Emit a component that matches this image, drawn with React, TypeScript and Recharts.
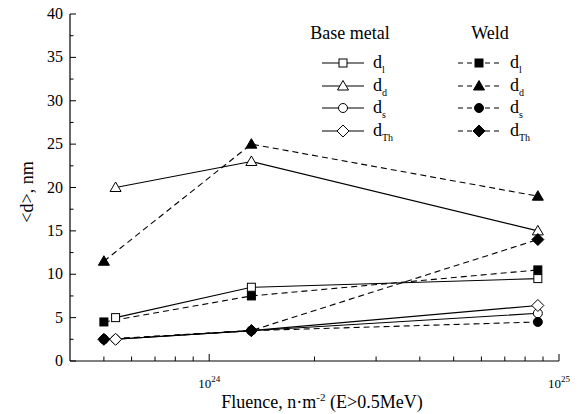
import { LineChart, Line, XAxis, YAxis } from "recharts";

// fluence positions (n·m^-2)
const baseX = [5.4e23, 1.32e24, 8.7e24];
const weldX = [5.0e23, 1.32e24, 8.7e24];

// base metal <d>, nm
const baseDl = [5.0, 8.5, 9.5];
const baseDd = [20, 23, 15];
const baseDs = [2.5, 3.5, 5.5];
const baseDTh = [2.5, 3.5, 6.4];

// weld <d>, nm
const weldDl = [4.5, 7.5, 10.5];
const weldDd = [11.5, 25, 19];
const weldDs = [2.5, 3.5, 4.5];
const weldDTh = [2.5, 3.5, 14];

const yTicks = [0, 2.5, 5, 7.5, 10, 12.5, 15, 17.5, 20, 22.5, 25, 27.5, 30, 32.5, 35, 37.5, 40];
const xTicks = [
  5e23, 6e23, 7e23, 8e23, 9e23, 1e24,
  2e24, 3e24, 4e24, 5e24, 6e24, 7e24, 8e24, 9e24, 1e25,
];
const legendLabels = ["l", "d", "s", "Th"];

const serif = { fontFamily: "Liberation Serif" };

type Shape = "square" | "triangle" | "circle" | "diamond";

function Marker({ shape, filled, cx, cy }: { shape: Shape; filled: boolean; cx: number; cy: number }) {
  const fill = filled ? "#000" : "#fff";
  const common = { fill, stroke: "#000", strokeWidth: 1 };
  if (shape === "square") return <rect x={cx - 4} y={cy - 4} width={8} height={8} {...common} />;
  if (shape === "triangle")
    return <polygon points={`${cx},${cy - 5.5} ${cx + 5.5},${cy + 4} ${cx - 5.5},${cy + 4}`} {...common} />;
  if (shape === "circle") return <circle cx={cx} cy={cy} r={4.5} {...common} />;
  return <polygon points={`${cx},${cy - 6} ${cx + 6},${cy} ${cx},${cy + 6} ${cx - 6},${cy}`} {...common} />;
}

const toData = (xs: number[], ys: number[]) => xs.map((x, i) => ({ x, y: ys[i] }));

const series = [
  { key: "bl", data: toData(baseX, baseDl), shape: "square" as Shape, filled: false, dashed: false },
  { key: "bd", data: toData(baseX, baseDd), shape: "triangle" as Shape, filled: false, dashed: false },
  { key: "bs", data: toData(baseX, baseDs), shape: "circle" as Shape, filled: false, dashed: false },
  { key: "bt", data: toData(baseX, baseDTh), shape: "diamond" as Shape, filled: false, dashed: false },
  { key: "wl", data: toData(weldX, weldDl), shape: "square" as Shape, filled: true, dashed: true },
  { key: "wd", data: toData(weldX, weldDd), shape: "triangle" as Shape, filled: true, dashed: true },
  { key: "ws", data: toData(weldX, weldDs), shape: "circle" as Shape, filled: true, dashed: true },
  { key: "wt", data: toData(weldX, weldDTh), shape: "diamond" as Shape, filled: true, dashed: true },
];

const legendShapes: Shape[] = ["square", "triangle", "circle", "diamond"];
const legendRows = [63, 86, 108, 131];

// default tickSize 6 / tickMargin 2 on both axes: the axis line sits 8px from the anchor
function YTick(props: any) {
  const { x, y, payload } = props;
  const v = payload.value as number;
  const major = v % 5 === 0;
  const ax = x + 8;
  return (
    <g>
      <line x1={ax} y1={y} x2={ax + (major ? 6 : 3.5)} y2={y} stroke="#000" strokeWidth={1} />
      {major && (
        <text x={ax - 7} y={y + 5} textAnchor="end" fontSize={16} style={serif} fill="#000">
          {v}
        </text>
      )}
    </g>
  );
}

function XTick(props: any) {
  const { x, y, payload } = props;
  const v = payload.value as number;
  const lg = Math.log10(v);
  const major = Math.abs(lg - Math.round(lg)) < 1e-6;
  const ay = y - 8;
  return (
    <g>
      <line x1={x} y1={ay} x2={x} y2={ay - (major ? 7 : 4.5)} stroke="#000" strokeWidth={1} />
      {major && (
        <text x={x} y={ay + 27} textAnchor="middle" fontSize={13} style={serif} fill="#000">
          10
          <tspan dy={-6} fontSize={9}>
            {Math.round(lg)}
          </tspan>
        </text>
      )}
    </g>
  );
}

export default function App() {
  return (
    <div style={{ position: "absolute", left: 0, top: 0, width: 586, height: 414, background: "#fff" }}>
      <LineChart width={586} height={414} margin={{ top: 14, right: 27, bottom: 0, left: 0 }}>
        <XAxis
          dataKey="x"
          type="number"
          scale="log"
          domain={[4e23, 1e25]}
          allowDataOverflow
          ticks={xTicks}
          interval={0}
          tick={<XTick />}
          tickLine={false}
          height={53}
          stroke="#000"
          strokeWidth={1.2}
        />
        <XAxis
          xAxisId="top"
          orientation="top"
          type="number"
          scale="log"
          domain={[4e23, 1e25]}
          allowDataOverflow
          tick={false}
          tickLine={false}
          height={0}
          stroke="#000"
          strokeWidth={1.2}
        />
        <YAxis
          type="number"
          domain={[0, 40]}
          ticks={yTicks}
          interval={0}
          tick={<YTick />}
          tickLine={false}
          width={70}
          stroke="#000"
          strokeWidth={1.2}
        />
        <YAxis
          yAxisId="r"
          orientation="right"
          type="number"
          domain={[0, 40]}
          tick={false}
          tickLine={false}
          width={0}
          stroke="#000"
          strokeWidth={1.2}
        />
        {series.map((s) => (
          <Line
            key={s.key}
            data={s.data}
            dataKey="y"
            type="linear"
            stroke="#000"
            strokeWidth={1.1}
            strokeDasharray={s.dashed ? "6 4" : undefined}
            isAnimationActive={false}
            activeDot={false}
            dot={(p: any) => (
              <Marker key={`${s.key}-${p.index}`} shape={s.shape} filled={s.filled} cx={p.cx} cy={p.cy} />
            )}
          />
        ))}
      </LineChart>
      <svg width={586} height={414} style={{ position: "absolute", left: 0, top: 0, pointerEvents: "none" }}>
        <text x={27} y={192} transform="rotate(-90 27 192)" textAnchor="middle" dominantBaseline="central" fontSize={18} style={serif}>
          {"<d>, nm"}
        </text>
        <text x={322} y={408} textAnchor="middle" fontSize={18} style={serif}>
          Fluence, n·m
          <tspan dy={-7} fontSize={11}>
            -2
          </tspan>
          <tspan dy={7}> (E&gt;0.5MeV)</tspan>
        </text>
        <text x={350} y={39} textAnchor="middle" fontSize={18} style={serif}>
          Base metal
        </text>
        <text x={490} y={39} textAnchor="middle" fontSize={18} style={serif}>
          Weld
        </text>
        {legendShapes.map((shape, i) => {
          const y = legendRows[i];
          return (
            <g key={shape}>
              <line x1={322} y1={y} x2={364} y2={y} stroke="#000" strokeWidth={1.1} />
              <Marker shape={shape} filled={false} cx={343} cy={y} />
              <text x={373} y={y + 5} fontSize={18} style={serif}>
                d
                <tspan dy={5} fontSize={10}>
                  {legendLabels[i]}
                </tspan>
              </text>
              <line x1={458} y1={y} x2={502} y2={y} stroke="#000" strokeWidth={1.1} strokeDasharray="5 4" />
              <Marker shape={shape} filled cx={479} cy={y} />
              <text x={510} y={y + 5} fontSize={18} style={serif}>
                d
                <tspan dy={5} fontSize={10}>
                  {legendLabels[i]}
                </tspan>
              </text>
            </g>
          );
        })}
      </svg>
    </div>
  );
}
